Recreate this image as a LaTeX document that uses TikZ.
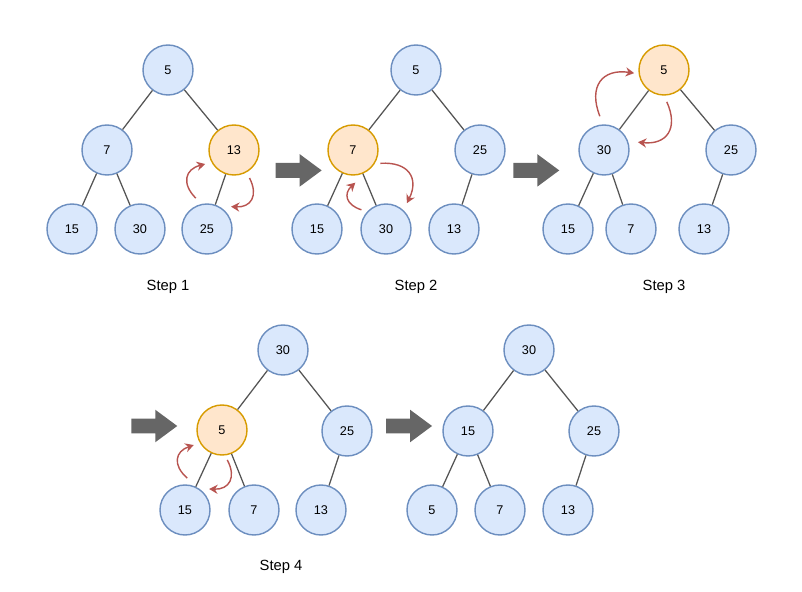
\documentclass[tikz,border=0pt]{standalone}
\usepackage{fontspec}
\setmainfont{Liberation Sans}
\usepackage{xcolor}
\usepackage{tikz}
\usetikzlibrary{arrows.meta,calc,shapes.arrows}

\definecolor{nodeblue}{HTML}{DAE8FC}
\definecolor{lineblue}{HTML}{6C8EBF}
\definecolor{nodeorange}{HTML}{FFE6CC}
\definecolor{lineorange}{HTML}{D79B00}
\definecolor{swapred}{HTML}{B85450}
\definecolor{arrowgray}{HTML}{666666}
\definecolor{edgegray}{HTML}{555555}

\begin{document}
\begin{tikzpicture}[
    heapnode/.style={circle, draw=lineblue, fill=nodeblue, line width=1pt,
                     minimum size=1.25cm, inner sep=0pt, font=\fontsize{9}{11}\selectfont},
    swapnode/.style={heapnode, draw=lineorange, fill=nodeorange},
    edge/.style={draw=edgegray, line width=0.9pt},
    swaparrow/.style={-{Stealth[length=6pt,width=6.5pt]}, draw=swapred, line width=1pt,
                      bend left=60, looseness=1.5},
    bigarrow/.style={single arrow, draw=none, fill=arrowgray, inner xsep=0pt, inner ysep=0.18cm,
                     minimum height=1.15cm, single arrow head extend=0.22cm, single arrow tip angle=73},
    steplabel/.style={font=\fontsize{10.5}{12}\selectfont},
]
\useasboundingbox (0,0) rectangle (20.05,14.8);

% Step 1
\node[heapnode] (a5) at (4.2,13.05) {5};
\node[heapnode] (a7) at (2.675,11.05) {7};
\node[swapnode] (a13) at (5.85,11.05) {13};
\node[heapnode] (a15) at (1.8,9.075) {15};
\node[heapnode] (a30) at (3.5,9.075) {30};
\node[heapnode] (a25) at (5.175,9.075) {25};
\draw[edge] (a5) -- (a7);
\draw[edge] (a5) -- (a13);
\draw[edge] (a7) -- (a15);
\draw[edge] (a7) -- (a30);
\draw[edge] (a13) -- (a25);
\draw[swaparrow] ($(a25)+(110:0.82)$) to ($(a13)+(206:0.8)$);
\draw[swaparrow] ($(a13)+(-61:0.8)$) to ($(a25)+(43:0.82)$);
\node[steplabel] (l1) at (4.2,7.63) {Step 1};

\node[bigarrow] (g1) at (7.34,10.54) {};

% Step 2
\node[heapnode] (b5) at (10.4,13.05) {5};
\node[swapnode] (b7) at (8.825,11.05) {7};
\node[heapnode] (b25) at (12.0,11.05) {25};
\node[heapnode] (b15) at (7.925,9.075) {15};
\node[heapnode] (b30) at (9.65,9.075) {30};
\node[heapnode] (b13) at (11.35,9.075) {13};
\draw[edge] (b5) -- (b7);
\draw[edge] (b5) -- (b25);
\draw[edge] (b7) -- (b15);
\draw[edge] (b7) -- (b30);
\draw[edge] (b25) -- (b13);
\draw[swaparrow] ($(b30)+(142:0.78)$) to ($(b7)+(-86:0.82)$);
\draw[swaparrow] ($(b7)+(-26:0.76)$) to ($(b30)+(51:0.83)$);
\node[steplabel] (l2) at (10.4,7.63) {Step 2};

\node[bigarrow] (g2) at (13.28,10.54) {};

% Step 3
\node[swapnode] (c5) at (16.6,13.05) {5};
\node[heapnode] (c30) at (15.1,11.05) {30};
\node[heapnode] (c25) at (18.275,11.05) {25};
\node[heapnode] (c15) at (14.2,9.075) {15};
\node[heapnode] (c7) at (15.775,9.075) {7};
\node[heapnode] (c13) at (17.6,9.075) {13};
\draw[edge] (c5) -- (c30);
\draw[edge] (c5) -- (c25);
\draw[edge] (c30) -- (c15);
\draw[edge] (c30) -- (c7);
\draw[edge] (c25) -- (c13);
\draw[swaparrow] ($(c30)+(97:0.85)$) to ($(c5)+(186:0.75)$);
\draw[swaparrow] ($(c5)+(-85:0.8)$) to ($(c30)+(13:0.87)$);
\node[steplabel] (l3) at (16.6,7.63) {Step 3};

\node[bigarrow] (g3) at (3.73,4.15) {};

% Step 4
\node[heapnode] (d30) at (7.075,6.05) {30};
\node[swapnode] (d5) at (5.55,4.05) {5};
\node[heapnode] (d25) at (8.675,4.025) {25};
\node[heapnode] (d15) at (4.625,2.05) {15};
\node[heapnode] (d7) at (6.35,2.05) {7};
\node[heapnode] (d13) at (8.025,2.05) {13};
\draw[edge] (d30) -- (d5);
\draw[edge] (d30) -- (d25);
\draw[edge] (d5) -- (d15);
\draw[edge] (d5) -- (d7);
\draw[edge] (d25) -- (d13);
\draw[swaparrow] ($(d15)+(86:0.8)$) to ($(d5)+(208:0.8)$);
\draw[swaparrow] ($(d5)+(-80:0.76)$) to ($(d15)+(41:0.8)$);
\node[steplabel] (l4) at (7.025,0.64) {Step 4};

\node[bigarrow] (g4) at (10.1,4.15) {};

% Result
\node[heapnode] (e30) at (13.225,6.05) {30};
\node[heapnode] (e15) at (11.7,4.025) {15};
\node[heapnode] (e25) at (14.85,4.025) {25};
\node[heapnode] (e5) at (10.8,2.05) {5};
\node[heapnode] (e7) at (12.5,2.05) {7};
\node[heapnode] (e13) at (14.2,2.05) {13};
\draw[edge] (e30) -- (e15);
\draw[edge] (e30) -- (e25);
\draw[edge] (e15) -- (e5);
\draw[edge] (e15) -- (e7);
\draw[edge] (e25) -- (e13);
\end{tikzpicture}
\end{document}
